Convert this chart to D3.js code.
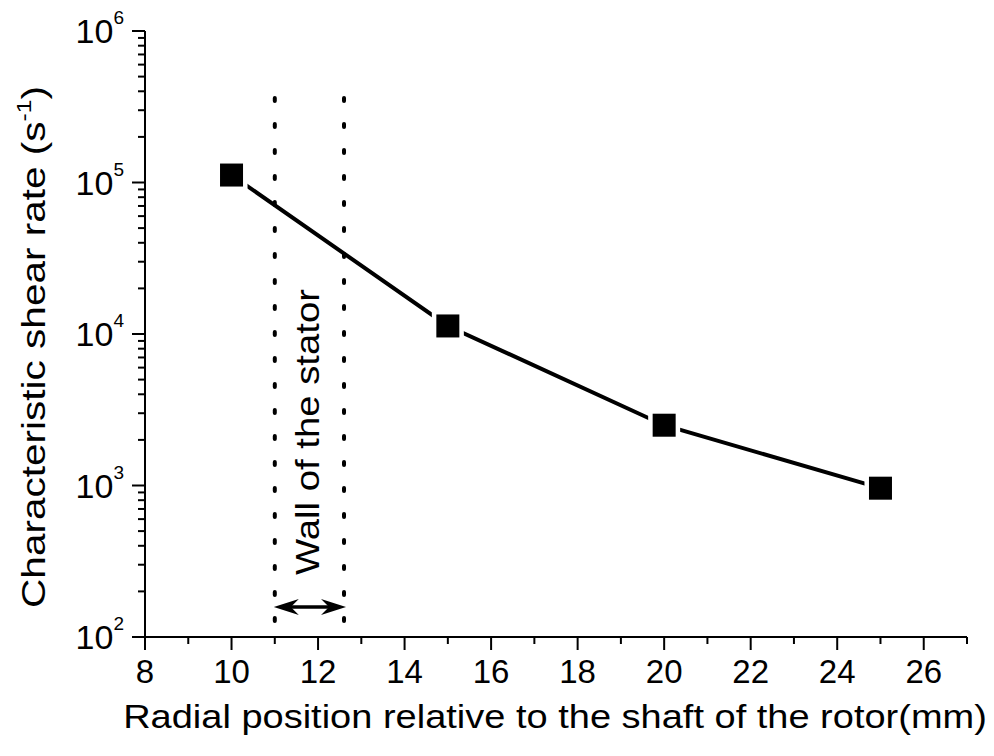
<!DOCTYPE html>
<html><head><meta charset="utf-8">
<script src="https://cdn.jsdelivr.net/npm/d3@7"></script>
<style>body{margin:0;background:#fff}svg{font-family:"Liberation Sans",Arial,sans-serif}</style>
</head><body>
<svg id="c" width="994" height="756"></svg>
<script>
const xValues = [10, 15, 20, 25];
const yValues = [112000, 11300, 2500, 960];
const xTicks = [8, 10, 12, 14, 16, 18, 20, 22, 24, 26];
const yTickExps = [2, 3, 4, 5, 6];
const wallBounds = [11.0, 12.6];
const xLabel = "Radial position relative to the shaft of the rotor(mm)";
const yLabel = "Characteristic shear rate (s";
const wallLabel = "Wall of the stator";

const svg = d3.select("#c");
const L = 145, R = 967, T = 31, B = 637;
const x = d3.scaleLinear().domain([8, 27]).range([L, R]);
const y = d3.scaleLog().domain([100, 1e6]).range([B, T]);

// x axis
const xa = svg.append("g");
xa.append("line").attr("x1", L).attr("x2", R).attr("y1", B).attr("y2", B).attr("stroke", "#000").attr("stroke-width", 2);
d3.range(8, 28, 1).forEach(v => {
  const major = xTicks.includes(v);
  xa.append("line").attr("x1", x(v)).attr("x2", x(v)).attr("y1", B).attr("y2", B + (major ? 13 : 7)).attr("stroke", "#000").attr("stroke-width", 2);
});
xTicks.forEach(v => {
  xa.append("text").attr("x", x(v)).attr("y", B + 46).attr("text-anchor", "middle").attr("font-size", 33).text(v);
});
// y axis
const ya = svg.append("g");
ya.append("line").attr("x1", L).attr("x2", L).attr("y1", T).attr("y2", B).attr("stroke", "#000").attr("stroke-width", 2);
yTickExps.forEach(e => {
  ya.append("line").attr("x1", L - 13).attr("x2", L).attr("y1", y(10 ** e)).attr("y2", y(10 ** e)).attr("stroke", "#000").attr("stroke-width", 2);
  if (e < 6) for (let m = 2; m <= 9; m++) {
    ya.append("line").attr("x1", L - 7).attr("x2", L).attr("y1", y(m * 10 ** e)).attr("y2", y(m * 10 ** e)).attr("stroke", "#000").attr("stroke-width", 2);
  }
  const t = ya.append("text").attr("x", L - 21).attr("y", y(10 ** e) + 12).attr("text-anchor", "end").attr("font-size", 34);
  t.append("tspan").text("10");
  t.append("tspan").attr("dy", -19).attr("font-size", 19).text(e);
});

// helper: stretch a text along its reading direction to a target length
function stretched(g, cx, cy, rot, target) {
  const inner = g.select("text");
  const bb = inner.node().getBBox();
  const s = target / bb.width;
  inner.attr("transform", `scale(${s},1)`);
  g.attr("transform", `translate(${cx},${cy}) rotate(${rot})`);
}

// wall dotted lines
wallBounds.forEach(v => {
  svg.append("line").attr("x1", x(v)).attr("x2", x(v)).attr("y1", 98).attr("y2", 622)
    .attr("stroke", "#000").attr("stroke-width", 4).attr("stroke-dasharray", "3,23").attr("stroke-linecap", "round");
});
// arrow
const ay = 607;
const ax1 = x(wallBounds[0]) - 1, ax2 = x(wallBounds[1]) + 2;
svg.append("line").attr("x1", ax1 + 8).attr("x2", ax2 - 8).attr("y1", ay).attr("y2", ay).attr("stroke", "#000").attr("stroke-width", 3.5);
svg.append("path").attr("d", `M${ax1},${ay} L${ax1 + 25},${ay - 8} L${ax1 + 17},${ay} L${ax1 + 25},${ay + 8} Z`).attr("fill", "#000");
svg.append("path").attr("d", `M${ax2},${ay} L${ax2 - 25},${ay - 8} L${ax2 - 17},${ay} L${ax2 - 25},${ay + 8} Z`).attr("fill", "#000");
const wg = svg.append("g");
wg.append("text").attr("x", 0).attr("y", 0).attr("text-anchor", "middle").attr("font-size", 33).text(wallLabel);
stretched(wg, 319, 432, -90, 286);

// data line
const pts = xValues.map((v, i) => [x(v), y(yValues[i])]);
svg.append("path").attr("d", d3.line()(pts)).attr("fill", "none").attr("stroke", "#000").attr("stroke-width", 4);
svg.selectAll("rect.m").data(pts).enter().append("rect").attr("class", "m")
  .attr("x", d => d[0] - 11.5).attr("y", d => d[1] - 11.5).attr("width", 23).attr("height", 23)
  .attr("fill", "#000").attr("stroke", "#fff").attr("stroke-width", 9).attr("paint-order", "stroke");

// axis labels
const xg = svg.append("g");
xg.append("text").attr("x", 0).attr("y", 0).attr("text-anchor", "middle").attr("font-size", 33).text(xLabel);
stretched(xg, 555, 728, 0, 864);

const yg = svg.append("g");
const yl = yg.append("text").attr("x", 0).attr("y", 0).attr("text-anchor", "middle").attr("font-size", 33);
yl.append("tspan").text(yLabel);
yl.append("tspan").attr("dy", -14).attr("font-size", 20).text("-1");
yl.append("tspan").attr("dy", 14).text(")");
stretched(yg, 45, 347, -90, 522);
</script>
</body></html>
